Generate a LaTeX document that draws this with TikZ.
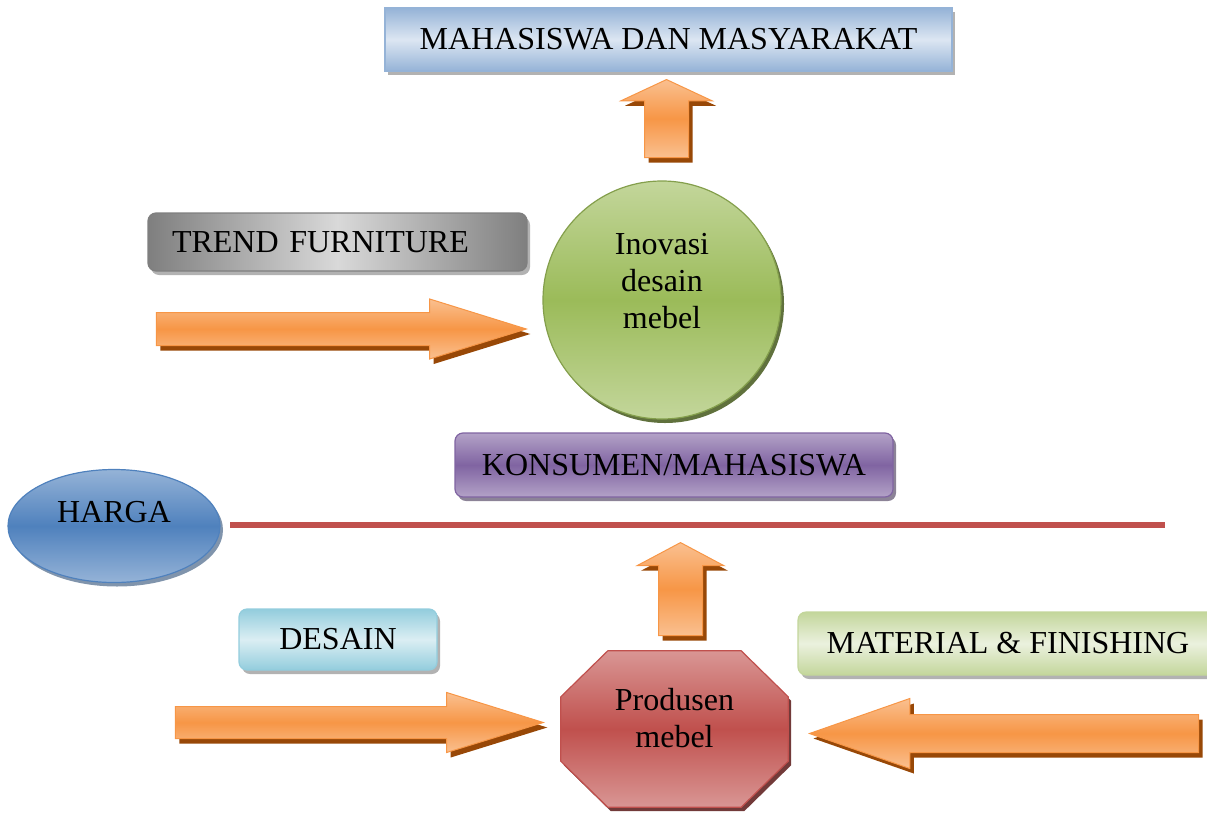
\documentclass[tikz,border=0pt]{standalone}
\usepackage{fontspec}
\setmainfont{Liberation Serif}
\usetikzlibrary{shapes.geometric, shapes.arrows, shadows, backgrounds}
\definecolor{mbblue}{HTML}{4F81BD}
\definecolor{mbbluel}{HTML}{95B3D7}
\definecolor{mbbluexl}{HTML}{DCE6F2}
\definecolor{mbnavy}{HTML}{2C4D75}
\definecolor{mbgray}{HTML}{7F7F7F}
\definecolor{mbgrayl}{HTML}{D9D9D9}
\definecolor{mbgreen}{HTML}{9BBB59}
\definecolor{mbgreenl}{HTML}{C3D69B}
\definecolor{mbgreenxl}{HTML}{EBF1DE}
\definecolor{mbolive}{HTML}{4F6228}
\definecolor{mbpurple}{HTML}{8064A2}
\definecolor{mbpurplel}{HTML}{B3A2C7}
\definecolor{mbplum}{HTML}{3F3151}
\definecolor{mbred}{HTML}{C0504D}
\definecolor{mbredl}{HTML}{D99694}
\definecolor{mbmaroon}{HTML}{632523}
\definecolor{mbaqua}{HTML}{93CDDD}
\definecolor{mbaqual}{HTML}{DBEEF3}
\definecolor{mborange}{HTML}{F79646}
\definecolor{mborangel}{HTML}{FAC090}
\definecolor{mbbrown}{HTML}{984807}
\tikzset{
  lbl/.style={font=\fontsize{32}{37}\selectfont, align=center, text=black},
  panel/.style={lbl, line width=1.2pt,
    drop shadow={shadow xshift=3pt, shadow yshift=-4pt, fill=#1, opacity=0.6}},
  barrow/.style={single arrow, anchor=tip, draw=mborange, line width=1pt,
    single arrow head indent=0pt, top color=mborangel, bottom color=mborangel, middle color=mborange,
    drop shadow={shadow xshift=4pt, shadow yshift=-5pt, fill=mbbrown, opacity=1}},
  octo/.style={draw=mbred, line width=1.2pt, top color=mbredl, bottom color=mbredl, middle color=mbred,
    drop shadow={shadow xshift=3pt, shadow yshift=-4pt, fill=mbmaroon, opacity=0.9}},
  sepline/.style={line width=6pt, mbred},
}
\begin{document}
\begin{tikzpicture}[x=1pt, y=-1pt]
    \useasboundingbox (0,0) rectangle (1207,814);
    % Top target
    \node[panel=mbgray, rectangle, draw=mbbluel, top color=mbbluel, bottom color=mbbluel, middle color=mbbluexl,
      minimum width=567pt, minimum height=63pt] (masy) at (668.5,39.5) {MAHASISWA DAN MASYARAKAT};
    \node[barrow, shape border rotate=90, inner sep=21.5pt, minimum height=78pt, minimum width=90pt,
      single arrow head extend=23.5pt, single arrow tip angle=130] (toparr) at (666.5,79) {};
    % Trend
    \node[panel=mbgray, rectangle, rounded corners=8pt, draw=mbgray, left color=mbgray, right color=mbgray, middle color=mbgrayl,
      text width=331pt, inner xsep=24pt, align=left, minimum height=58pt] (trend) at (337.5,242) {TREND FURNITURE};
    \node[barrow, inner sep=16pt, minimum height=370pt, minimum width=59pt,
      single arrow head extend=13.5pt, single arrow tip angle=34.5] (trendarr) at (528,329) {};
    % Inovasi
    \node[circle, lbl, draw=mbgreen!85!black, line width=1.2pt, top color=mbgreenl, bottom color=mbgreenl, middle color=mbgreen,
      minimum size=238pt, text depth=39pt,
      drop shadow={shadow xshift=3pt, shadow yshift=-4pt, fill=mbolive, opacity=0.9}] (inovasi) at (662,300) {Inovasi\\desain\\mebel};
    % Konsumen
    \node[panel=mbplum, rectangle, rounded corners=8pt, draw=mbpurple, top color=mbpurplel, bottom color=mbpurplel, middle color=mbpurple,
      minimum width=438pt, minimum height=64pt] (konsumen) at (674,465) {KONSUMEN/MAHASISWA};
    % Harga + line
    \node[panel=mbnavy, ellipse, draw=mbblue, top color=mbbluel, bottom color=mbbluel, middle color=mbblue,
      minimum width=212pt, minimum height=113pt, text depth=28pt] (harga) at (114,526) {HARGA};
    \coordinate (lineL) at (230,525);
    \coordinate (lineR) at (1165,525);
    \draw[sepline] (lineL) -- (lineR);
    % Produsen
    \node[barrow, shape border rotate=90, inner sep=21.5pt, minimum height=93pt, minimum width=86pt,
      single arrow head extend=21.5pt, single arrow tip angle=124] (midarr) at (680.5,542) {};
    \node[lbl, rectangle, minimum width=227pt, minimum height=156pt, text depth=23pt] (produsen) at (674.5,729) {Produsen\\mebel};
    \begin{scope}[on background layer]
      \path[octo] ([xshift=47pt]produsen.north west) -- ([xshift=-47pt]produsen.north east)
        -- ([yshift=-46pt]produsen.north east) -- ([yshift=46pt]produsen.south east)
        -- ([xshift=-47pt]produsen.south east) -- ([xshift=47pt]produsen.south west)
        -- ([yshift=46pt]produsen.south west) -- ([yshift=-46pt]produsen.north west) -- cycle;
    \end{scope}
    % Desain
    \node[panel=mbgray, rectangle, rounded corners=8pt, draw=mbaqua, top color=mbaqua, bottom color=mbaqua, middle color=mbaqual,
      minimum width=198pt, minimum height=61pt] (desain) at (338,639.5) {DESAIN};
    \node[barrow, inner sep=15.5pt, minimum height=368pt, minimum width=59pt,
      single arrow head extend=14pt, single arrow tip angle=34.5] (desainarr) at (545,722.5) {};
    % Material
    \node[panel=mbgray, rectangle, rounded corners=8pt, draw=mbgreenl, top color=mbgreenl, bottom color=mbgreenl, middle color=mbgreenxl,
      minimum width=420pt, minimum height=63pt] (material) at (1008,643.5) {MATERIAL \& FINISHING};
    \node[barrow, shape border rotate=180, inner sep=18.5pt, minimum height=389pt, minimum width=69pt,
      single arrow head extend=16pt, single arrow tip angle=38.5] (matarr) at (808,733.5) {};
  \end{tikzpicture}
\end{document}
